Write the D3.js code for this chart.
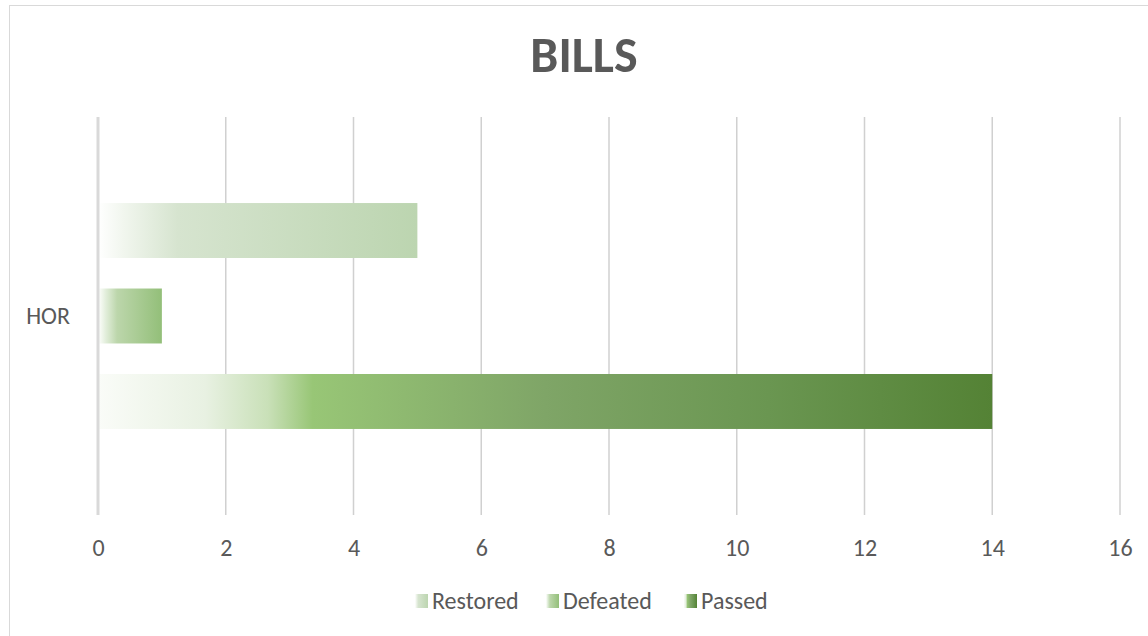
<!DOCTYPE html>
<html><head><meta charset="utf-8">
<script src="https://cdn.jsdelivr.net/npm/d3@7"></script>
<style>body{margin:0;background:#fff}svg{display:block}</style>
</head><body>
<svg id="c" width="1148" height="636"></svg>
<script>
const categories = ["HOR"];
const seriesNames = ["Restored", "Defeated", "Passed"];
const restored = [5];
const defeated = [1];
const passed = [14];
const xTicks = [0, 2, 4, 6, 8, 10, 12, 14, 16];
const title = "BILLS";

const seriesValues = {Restored: restored, Defeated: defeated, Passed: passed};
const gradStops = {
  Restored: [[0, "#ffffff"], [0.08, "#f1f6ee"], [0.25, "#d6e4cf"], [1, "#bcd5b0"]],
  Defeated: [[0, "#ffffff"], [0.12, "#e2eedb"], [0.3, "#bcd6ab"], [1, "#93bf79"]],
  Passed: [[0, "#fafcf8"], [0.12, "#e8f1e2"], [0.19, "#c9e0b8"], [0.24, "#98c676"], [0.5, "#7fa567"], [0.75, "#6a9651"], [1, "#548235"]]
};

const svg = d3.select("#c");
const font = "Carlito, 'Open Sans', 'Liberation Sans', sans-serif";

svg.append("rect").attr("x", 9.5).attr("y", 5.5).attr("width", 1150).attr("height", 640)
  .attr("fill", "#fff").attr("stroke", "#d9d9d9").attr("stroke-width", 1);

const defs = svg.append("defs");
seriesNames.forEach(s => {
  const g = defs.append("linearGradient").attr("id", "g" + s).attr("x1", 0).attr("x2", 1).attr("y1", 0).attr("y2", 0);
  gradStops[s].forEach(st => g.append("stop").attr("offset", st[0]).attr("stop-color", st[1]));
});

const x = d3.scaleLinear().domain([0, 16]).range([98, 1120]);
const y0 = d3.scaleBand().domain(categories).range([117, 515]).paddingInner(0).paddingOuter(0.276);
const y1 = d3.scaleBand().domain(seriesNames).range([0, y0.bandwidth()]).paddingInner(0.357).paddingOuter(0.1785);

// gridlines (non-zero)
svg.append("g").selectAll("line").data(xTicks.filter(d => d !== 0)).join("line")
  .attr("x1", d => x(d)).attr("x2", d => x(d)).attr("y1", 117).attr("y2", 515)
  .attr("stroke", "#d0d0d0").attr("stroke-width", 1.5);

// tick labels via axis
const ax = svg.append("g").attr("transform", "translate(0,515)")
  .call(d3.axisBottom(x).tickValues(xTicks).tickSize(0).tickPadding(24).tickFormat(d3.format("d")));
ax.select(".domain").remove();
ax.selectAll("text").attr("font-family", font).attr("font-size", 24).attr("fill", "#595959");

// bars
categories.forEach((c, ci) => {
  seriesNames.forEach(s => {
    svg.append("rect")
      .attr("x", x(0)).attr("y", y0(c) + y1(s))
      .attr("width", x(seriesValues[s][ci]) - x(0)).attr("height", y1.bandwidth())
      .attr("fill", "url(#g" + s + ")");
  });
});

// zero axis line on top
svg.append("line").attr("x1", x(0)).attr("x2", x(0)).attr("y1", 117).attr("y2", 515)
  .attr("stroke", "#d9d9d9").attr("stroke-width", 3);

// category labels
const ay = svg.append("g").attr("transform", "translate(" + x(0) + ",0)")
  .call(d3.axisLeft(y0).tickSize(0).tickPadding(28));
ay.select(".domain").remove();
ay.selectAll("text").attr("font-family", font).attr("font-size", 24).attr("fill", "#595959");

// title
svg.append("text").attr("x", 584).attr("y", 72).attr("text-anchor", "middle")
  .attr("font-family", font).attr("font-weight", "bold").attr("font-size", 50)
  .attr("fill", "#595959").text(title);

// legend
const legX = [415, 546, 684];
const leg = svg.append("g");
seriesNames.forEach((s, i) => {
  leg.append("rect").attr("x", legX[i]).attr("y", 594).attr("width", 13).attr("height", 14)
    .attr("fill", "url(#g" + s + ")");
  leg.append("text").attr("x", legX[i] + 17).attr("y", 609)
    .attr("font-family", font).attr("font-size", 24).attr("fill", "#595959").text(s);
});
</script>
</body></html>
